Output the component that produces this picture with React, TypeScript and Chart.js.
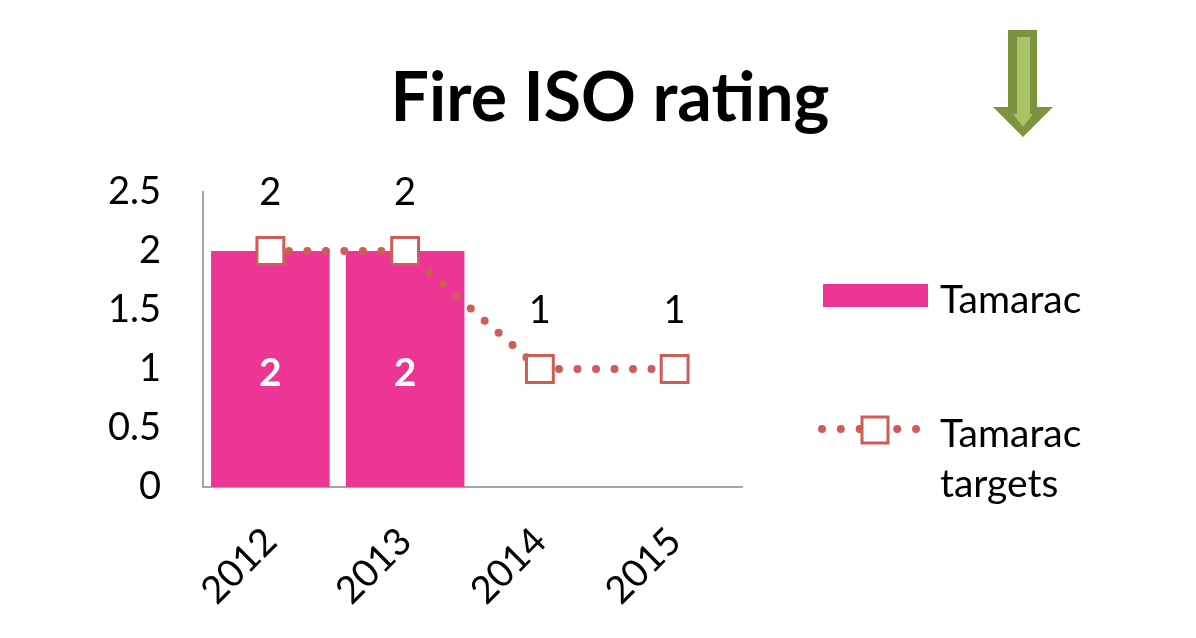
import React, { useEffect, useRef } from "react";
import { Chart, registerables } from "chart.js";

Chart.register(...registerables);

const categories = ["2012", "2013", "2014", "2015"];
const tamaracValues = [2, 2, null, null];
const targetValues = [2, 2, 1, 1];
const yTicks = [0, 0.5, 1, 1.5, 2, 2.5];

const TITLE = "Fire ISO rating";
const BAR_LABEL = "Tamarac";
const LINE_LABEL = ["Tamarac", "targets"];

const PINK = "#ec3594";
const LINE_RED = "#cd5d56";
const AXIS_GREY = "#a6a6a6";
const FONT = "Lato, 'Open Sans', sans-serif";

const decorPlugin = {
  id: "decor",
  afterDatasetsDraw(chart: any) {
    const ctx = chart.ctx;
    ctx.save();
    // data labels
    const lineMeta = chart.getDatasetMeta(1);
    ctx.fillStyle = "#000";
    ctx.font = `38px ${FONT}`;
    ctx.textAlign = "center";
    ctx.textBaseline = "middle";
    lineMeta.data.forEach((pt: any, i: number) => {
      const v = targetValues[i];
      if (v == null) return;
      ctx.fillText(String(v), pt.x, pt.y - 58);
    });
    const barMeta = chart.getDatasetMeta(0);
    ctx.fillStyle = "#fff";
    ctx.font = `bold 39px ${FONT}`;
    barMeta.data.forEach((bar: any, i: number) => {
      const v = tamaracValues[i];
      if (v == null) return;
      ctx.fillText(String(v), bar.x, (bar.y + bar.base) / 2 + 4);
    });
    ctx.restore();
  },
  afterDraw(chart: any) {
    const ctx = chart.ctx;
    ctx.save();
    // title
    ctx.fillStyle = "#000";
    ctx.font = `bold 68px ${FONT}`;
    ctx.textAlign = "center";
    ctx.textBaseline = "alphabetic";
    ctx.fillText(TITLE, 610, 121);

    // arrow
    ctx.fillStyle = "#7a9440";
    ctx.beginPath();
    ctx.moveTo(1008, 30);
    ctx.lineTo(1037, 30);
    ctx.lineTo(1037, 107);
    ctx.lineTo(1053, 107);
    ctx.lineTo(1023, 137);
    ctx.lineTo(993, 107);
    ctx.lineTo(1008, 107);
    ctx.closePath();
    ctx.fill();
    ctx.fillStyle = "#a6c466";
    ctx.beginPath();
    ctx.moveTo(1017, 37);
    ctx.lineTo(1030, 37);
    ctx.lineTo(1030, 114);
    ctx.lineTo(1033, 114);
    ctx.lineTo(1023, 127);
    ctx.lineTo(1013, 114);
    ctx.lineTo(1017, 114);
    ctx.closePath();
    ctx.fill();

    // legend
    ctx.fillStyle = PINK;
    ctx.fillRect(823, 284, 105, 23);
    ctx.fillStyle = "#000";
    ctx.font = `39px ${FONT}`;
    ctx.textAlign = "left";
    ctx.textBaseline = "alphabetic";
    ctx.fillText(BAR_LABEL, 940, 313);

    ctx.strokeStyle = LINE_RED;
    ctx.lineWidth = 8;
    ctx.lineCap = "round";
    ctx.setLineDash([0, 18.8]);
    ctx.beginPath();
    ctx.moveTo(822, 429);
    ctx.lineTo(918, 429);
    ctx.stroke();
    ctx.setLineDash([]);
    ctx.fillStyle = "#fff";
    ctx.lineWidth = 3;
    ctx.fillRect(862, 417, 26, 26);
    ctx.strokeRect(862, 417, 26, 26);

    ctx.fillStyle = "#000";
    ctx.fillText(LINE_LABEL[0], 940, 447);
    ctx.fillText(LINE_LABEL[1], 940, 497);
    ctx.restore();
  },
};

export default function App() {
  const ref = useRef<HTMLCanvasElement>(null);
  useEffect(() => {
    if (!ref.current) return;
    const chart = new Chart(ref.current, {
      type: "bar",
      data: {
        labels: categories,
        datasets: [
          {
            type: "bar",
            label: BAR_LABEL,
            data: tamaracValues as any,
            backgroundColor: PINK,
            borderWidth: 0,
            barPercentage: 0.88,
            categoryPercentage: 1,
            order: 1,
          },
          {
            type: "line",
            label: LINE_LABEL.join(" "),
            data: targetValues,
            borderColor: LINE_RED,
            borderWidth: 8,
            borderDash: [0, 18.5],
            borderCapStyle: "round",
            tension: 0,
            pointStyle: "rect",
            pointRadius: 19,
            pointBorderWidth: 3,
            pointBackgroundColor: "#fff",
            pointBorderColor: LINE_RED,
            order: 0,
          } as any,
        ],
      },
      options: {
        responsive: false,
        animation: false,
        layout: { padding: { left: 0, top: 192, right: 454, bottom: 0 } },
        plugins: {
          legend: { display: false },
          tooltip: { enabled: false },
          title: { display: false },
        },
        scales: {
          x: {
            grid: { display: false, drawTicks: false },
            border: { color: AXIS_GREY, width: 2 },
            ticks: {
              color: "#000",
              font: { family: FONT, size: 38 },
              minRotation: 45,
              maxRotation: 45,
              padding: 32,
            },
            afterFit: (s: any) => {
              s.height = 151;
            },
          },
          y: {
            min: 0,
            max: 2.5,
            grid: { display: false, drawTicks: false },
            border: { color: AXIS_GREY, width: 2 },
            afterBuildTicks: (s: any) => {
              s.ticks = yTicks.map((v) => ({ value: v }));
            },
            ticks: {
              color: "#000",
              font: { family: FONT, size: 38 },
              padding: 42,
              callback: (v: any) => String(v),
            },
            afterFit: (s: any) => {
              s.width = 203;
            },
          },
        },
      },
      plugins: [decorPlugin],
    });
    return () => chart.destroy();
  }, []);
  return (
    <div style={{ position: "absolute", left: 0, top: 0, width: 1196, height: 638, background: "#fff" }}>
      <canvas ref={ref} width={1196} height={638} style={{ width: 1196, height: 638 }} />
    </div>
  );
}
